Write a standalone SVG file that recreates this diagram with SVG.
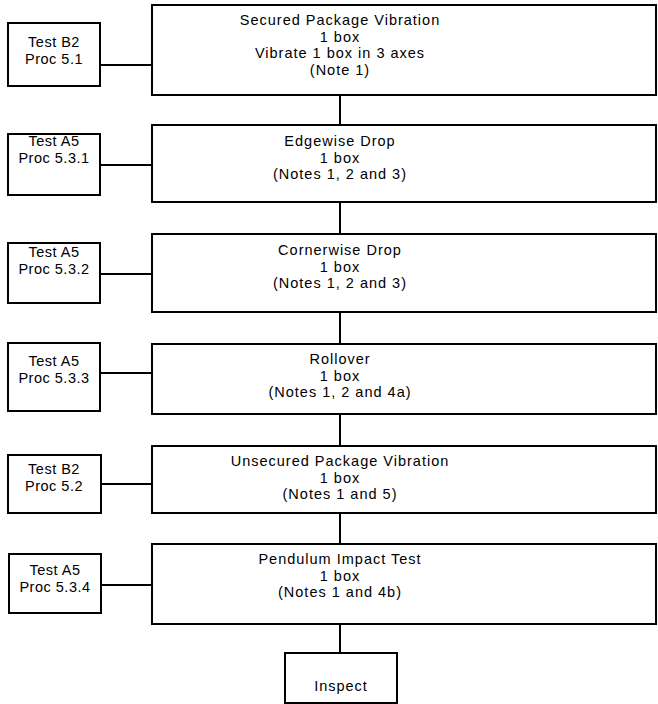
<svg xmlns="http://www.w3.org/2000/svg" width="658" height="704" viewBox="0 0 658 704">
<style>
rect{fill:#fff;stroke:#000;stroke-width:2}
text{font-family:"Liberation Sans","DejaVu Sans",sans-serif;font-size:14.5px;letter-spacing:1px;fill:#000;text-anchor:middle}
text.s{letter-spacing:0.5px}
.c line{stroke:#000;stroke-width:2}
</style>
<rect x="0" y="0" width="658" height="704" style="stroke:none"/>
<g class="c" id="connectors">
<line x1="340" y1="95" x2="340" y2="125"/>
<line x1="340" y1="202" x2="340" y2="234"/>
<line x1="340" y1="312" x2="340" y2="344"/>
<line x1="340" y1="414" x2="340" y2="446"/>
<line x1="340" y1="513" x2="340" y2="544"/>
<line x1="340" y1="624" x2="340" y2="653"/>
<line x1="100" y1="65" x2="152" y2="65"/>
<line x1="100" y1="165" x2="152" y2="165"/>
<line x1="100" y1="274" x2="152" y2="274"/>
<line x1="100" y1="373" x2="152" y2="373"/>
<line x1="101" y1="484" x2="152" y2="484"/>
<line x1="101" y1="585" x2="152" y2="585"/>
</g>
<g id="n1"><rect x="152" y="5" width="504" height="90"/>
<text x="340" y="25">Secured Package Vibration</text>
<text x="340" y="41.5">1 box</text>
<text x="340" y="58">Vibrate 1 box in 3 axes</text>
<text x="340" y="74.5">(Note 1)</text></g>
<g id="n2"><rect x="152" y="125" width="504" height="77"/>
<text x="340" y="146">Edgewise Drop</text>
<text x="340" y="162.5">1 box</text>
<text x="340" y="179">(Notes 1, 2 and 3)</text></g>
<g id="n3"><rect x="152" y="234" width="504" height="78"/>
<text x="340" y="255">Cornerwise Drop</text>
<text x="340" y="271.5">1 box</text>
<text x="340" y="288">(Notes 1, 2 and 3)</text></g>
<g id="n4"><rect x="152" y="344" width="504" height="70"/>
<text x="340" y="364">Rollover</text>
<text x="340" y="380.5">1 box</text>
<text x="340" y="397">(Notes 1, 2 and 4a)</text></g>
<g id="n5"><rect x="152" y="446" width="504" height="67"/>
<text x="340" y="466">Unsecured Package Vibration</text>
<text x="340" y="482.5">1 box</text>
<text x="340" y="499">(Notes 1 and 5)</text></g>
<g id="n6"><rect x="152" y="544" width="504" height="80"/>
<text x="340" y="564">Pendulum Impact Test</text>
<text x="340" y="580.5">1 box</text>
<text x="340" y="597">(Notes 1 and 4b)</text></g>
<g id="n7"><rect x="285" y="653" width="112" height="50"/>
<text x="341" y="691">Inspect</text></g>
<g id="t1"><rect x="8" y="23" width="92" height="63"/><text class="s" x="54" y="47">Test B2</text><text class="s" x="54" y="63.5">Proc 5.1</text></g>
<g id="t2"><rect x="8" y="134" width="92" height="61"/><text class="s" x="54" y="146">Test A5</text><text class="s" x="54" y="162.5">Proc 5.3.1</text></g>
<g id="t3"><rect x="8" y="243" width="92" height="60"/><text class="s" x="54" y="257">Test A5</text><text class="s" x="54" y="273.5">Proc 5.3.2</text></g>
<g id="t4"><rect x="8" y="343" width="92" height="68"/><text class="s" x="54" y="366">Test A5</text><text class="s" x="54" y="382.5">Proc 5.3.3</text></g>
<g id="t5"><rect x="8" y="455" width="93" height="58"/><text class="s" x="54" y="474">Test B2</text><text class="s" x="54" y="490.5">Proc 5.2</text></g>
<g id="t6"><rect x="9" y="554" width="92" height="59"/><text class="s" x="55" y="575">Test A5</text><text class="s" x="55" y="591.5">Proc 5.3.4</text></g>
</svg>
